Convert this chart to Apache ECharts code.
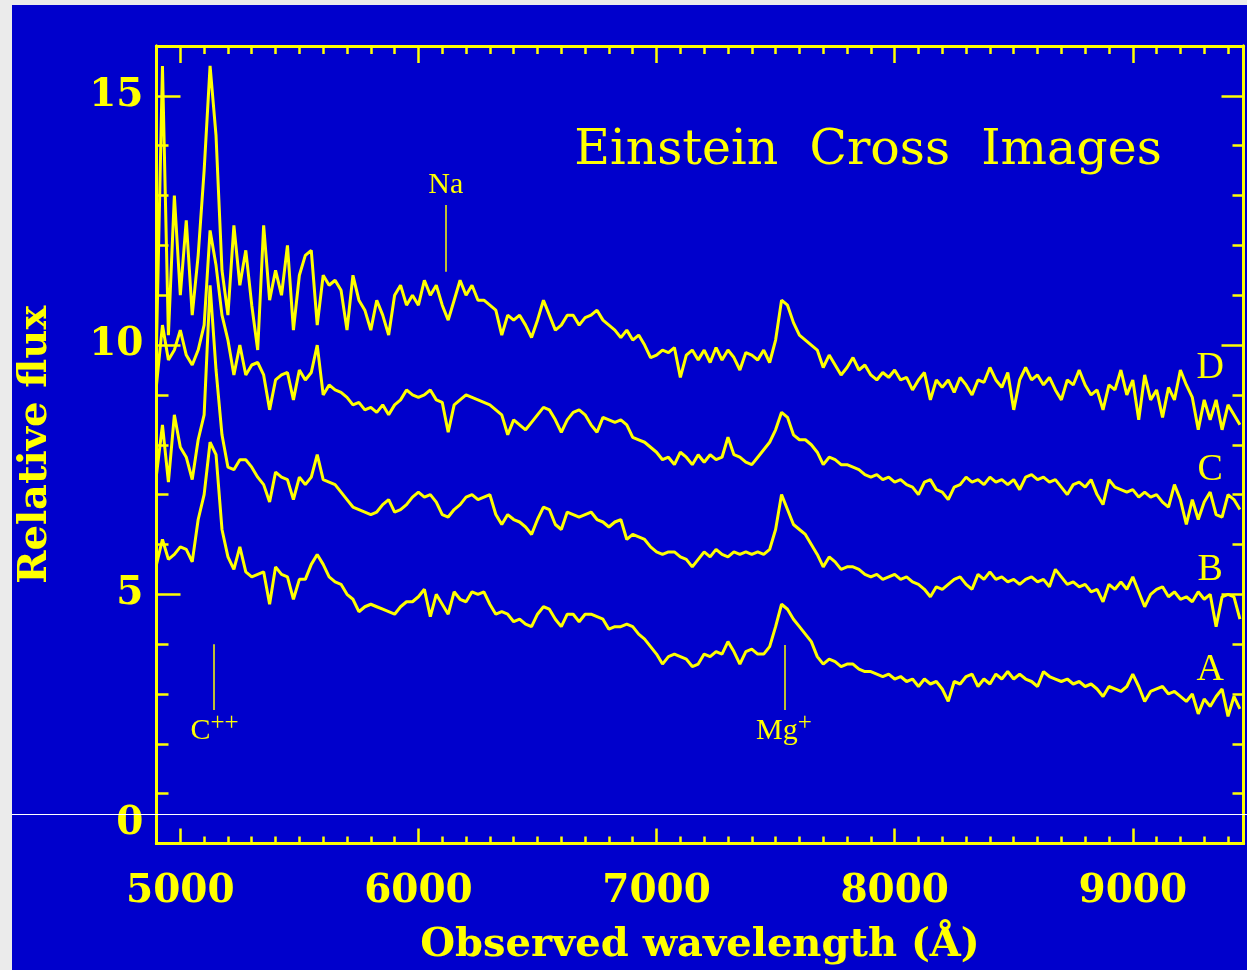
<!DOCTYPE html>
<html>
<head>
<meta charset="utf-8">
<title>Einstein Cross Images</title>
<script src="https://cdn.jsdelivr.net/npm/echarts@6/dist/echarts.min.js"></script>
<style>
  html, body { margin: 0; padding: 0; background: #ebebeb; }
  #app { position: absolute; left: 12px; top: 5px; width: 1235px; height: 965px; background: #0000cc; }
</style>
</head>
<body>
<div id="app"></div>
<script>
// 波长采样：从 4900 Å 开始，每 25 Å 一个点
const lambdaStart = 4900;
const lambdaStep = 25;

// 四个像的相对流量
const fluxA = [
  5.6, 6.1, 5.7, 5.8, 5.95, 5.9, 5.65, 6.5, 7.0, 8.05,
  7.8, 6.3, 5.75, 5.5, 5.95, 5.45, 5.35, 5.4, 5.45, 4.8,
  5.55, 5.4, 5.35, 4.9, 5.3, 5.3, 5.6, 5.8, 5.6, 5.35,
  5.25, 5.2, 5.0, 4.9, 4.65, 4.75, 4.8, 4.75, 4.7, 4.65,
  4.6, 4.75, 4.85, 4.85, 4.95, 5.1, 4.55, 5.0, 4.8, 4.6,
  5.05, 4.9, 4.85, 5.05, 5.0, 5.05, 4.8, 4.6, 4.65, 4.6,
  4.45, 4.5, 4.4, 4.35, 4.6, 4.75, 4.7, 4.5, 4.35, 4.6,
  4.6, 4.45, 4.6, 4.6, 4.55, 4.5, 4.3, 4.35, 4.35, 4.4,
  4.35, 4.2, 4.1, 3.95, 3.8, 3.6, 3.75, 3.8, 3.75, 3.7,
  3.55, 3.6, 3.8, 3.75, 3.85, 3.8, 4.05, 3.85, 3.6, 3.85,
  3.9, 3.8, 3.8, 3.95, 4.35, 4.8, 4.7, 4.5, 4.35, 4.2,
  4.05, 3.75, 3.6, 3.7, 3.65, 3.55, 3.6, 3.6, 3.5, 3.45,
  3.45, 3.4, 3.35, 3.4, 3.3, 3.35, 3.25, 3.3, 3.15, 3.3,
  3.2, 3.25, 3.1, 2.85, 3.25, 3.2, 3.35, 3.4, 3.15, 3.3,
  3.2, 3.4, 3.3, 3.45, 3.3, 3.4, 3.3, 3.25, 3.15, 3.45,
  3.35, 3.3, 3.25, 3.3, 3.2, 3.25, 3.15, 3.2, 3.1, 2.95,
  3.15, 3.1, 3.05, 3.15, 3.4, 3.15, 2.85, 3.05, 3.1, 3.15,
  3.0, 3.05, 2.95, 2.85, 3.0, 2.6, 2.9, 2.75, 2.95, 3.1,
  2.55, 2.95, 2.7
];
const fluxB = [
  7.4, 8.4, 7.25, 8.6, 7.95, 7.75, 7.3, 8.1, 8.6, 11.2,
  9.5, 8.2, 7.55, 7.5, 7.7, 7.7, 7.55, 7.35, 7.2, 6.85,
  7.45, 7.35, 7.3, 6.9, 7.35, 7.2, 7.35, 7.8, 7.3, 7.25,
  7.2, 7.05, 6.9, 6.75, 6.7, 6.65, 6.6, 6.65, 6.8, 6.9,
  6.65, 6.7, 6.8, 6.95, 7.05, 6.95, 7.0, 6.85, 6.6, 6.55,
  6.7, 6.8, 6.95, 7.0, 6.9, 6.95, 7.0, 6.6, 6.4, 6.6,
  6.5, 6.45, 6.35, 6.2, 6.5, 6.75, 6.7, 6.4, 6.3, 6.65,
  6.6, 6.55, 6.6, 6.65, 6.5, 6.45, 6.35, 6.45, 6.5, 6.1,
  6.2, 6.15, 6.1, 5.95, 5.85, 5.8, 5.85, 5.85, 5.75, 5.7,
  5.55, 5.7, 5.85, 5.75, 5.9, 5.8, 5.75, 5.85, 5.8, 5.85,
  5.8, 5.85, 5.8, 5.9, 6.3, 7.0, 6.7, 6.4, 6.3, 6.2,
  6.0, 5.8, 5.55, 5.75, 5.65, 5.5, 5.55, 5.55, 5.5, 5.4,
  5.35, 5.4, 5.3, 5.35, 5.4, 5.3, 5.35, 5.25, 5.2, 5.1,
  4.95, 5.15, 5.1, 5.2, 5.3, 5.35, 5.2, 5.1, 5.4, 5.3,
  5.45, 5.3, 5.35, 5.25, 5.3, 5.2, 5.3, 5.35, 5.25, 5.3,
  5.15, 5.5, 5.35, 5.2, 5.25, 5.15, 5.2, 5.05, 5.1, 4.85,
  5.2, 5.1, 5.25, 5.1, 5.35, 5.05, 4.75, 5.0, 5.1, 5.15,
  4.95, 5.05, 4.9, 4.95, 4.85, 5.05, 4.9, 5.0, 4.35, 4.95,
  5.0, 4.95, 4.5
];
const fluxC = [
  9.2, 10.4, 9.7, 9.9, 10.3, 9.8, 9.6, 9.9, 10.4, 12.3,
  11.6, 10.6, 10.1, 9.4, 10.0, 9.4, 9.6, 9.65, 9.4, 8.7,
  9.3, 9.4, 9.45, 8.9, 9.5, 9.3, 9.45, 10.0, 9.0, 9.2,
  9.1, 9.05, 8.95, 8.8, 8.85, 8.7, 8.75, 8.65, 8.8, 8.6,
  8.8, 8.9, 9.1, 9.0, 8.95, 9.0, 9.1, 8.9, 8.85, 8.25,
  8.8, 8.9, 9.0, 8.95, 8.9, 8.85, 8.8, 8.7, 8.6, 8.2,
  8.5, 8.4, 8.3, 8.45, 8.6, 8.75, 8.7, 8.5, 8.25, 8.5,
  8.65, 8.7, 8.6, 8.4, 8.25, 8.55, 8.5, 8.45, 8.5, 8.4,
  8.15, 8.1, 8.05, 7.95, 7.85, 7.7, 7.75, 7.6, 7.85, 7.75,
  7.6, 7.8, 7.65, 7.8, 7.7, 7.75, 8.15, 7.8, 7.75, 7.65,
  7.6, 7.75, 7.9, 8.05, 8.3, 8.65, 8.55, 8.2, 8.1, 8.1,
  8.0, 7.85, 7.6, 7.75, 7.7, 7.6, 7.6, 7.55, 7.5, 7.4,
  7.35, 7.4, 7.3, 7.35, 7.25, 7.3, 7.2, 7.15, 7.0, 7.25,
  7.3, 7.1, 7.05, 6.9, 7.15, 7.2, 7.35, 7.25, 7.3, 7.2,
  7.35, 7.25, 7.3, 7.2, 7.3, 7.1, 7.35, 7.4, 7.3, 7.35,
  7.25, 7.3, 7.15, 7.0, 7.2, 7.25, 7.15, 7.3, 7.0, 6.8,
  7.3, 7.15, 7.1, 7.05, 7.1, 6.95, 7.05, 6.95, 7.0, 6.85,
  6.75, 7.2, 6.9, 6.4, 6.9, 6.5, 6.85, 7.05, 6.6, 6.55,
  7.0, 6.9, 6.7
];
const fluxD = [
  10.0, 15.6, 10.2, 13.0, 11.0, 12.5, 10.6, 11.8, 13.5, 15.6,
  14.2, 11.5, 10.6, 12.4, 11.2, 11.9, 10.8, 9.9, 12.4, 10.9,
  11.5, 11.0, 12.0, 10.3, 11.4, 11.8, 11.9, 10.4, 11.4, 11.2,
  11.3, 11.1, 10.3, 11.4, 10.9, 10.7, 10.3, 10.9, 10.6, 10.2,
  11.0, 11.2, 10.8, 11.0, 10.8, 11.3, 11.0, 11.2, 10.8, 10.5,
  10.9, 11.3, 11.0, 11.2, 10.9, 10.9, 10.8, 10.7, 10.2, 10.6,
  10.5, 10.6, 10.4, 10.15, 10.5, 10.9, 10.6, 10.3, 10.4, 10.6,
  10.6, 10.4, 10.55, 10.6, 10.7, 10.5, 10.4, 10.3, 10.15, 10.3,
  10.1, 10.2, 10.0, 9.75, 9.8, 9.9, 9.85, 9.95, 9.35, 9.8,
  9.9, 9.7, 9.9, 9.65, 9.95, 9.7, 9.9, 9.75, 9.5, 9.85,
  9.8, 9.7, 9.9, 9.65, 10.1, 10.9, 10.8, 10.45, 10.2, 10.1,
  10.0, 9.9, 9.55, 9.8, 9.6, 9.4, 9.55, 9.75, 9.5, 9.6,
  9.4, 9.3, 9.45, 9.35, 9.5, 9.3, 9.35, 9.1, 9.3, 9.45,
  8.9, 9.3, 9.15, 9.3, 9.05, 9.35, 9.2, 9.0, 9.3, 9.25,
  9.55, 9.3, 9.15, 9.45, 8.7, 9.3, 9.55, 9.3, 9.4, 9.2,
  9.35, 9.1, 8.9, 9.3, 9.2, 9.5, 9.2, 9.0, 9.1, 8.7,
  9.2, 9.1, 9.5, 9.0, 9.3, 8.5, 9.4, 8.9, 9.1, 8.55,
  9.15, 8.9, 9.5, 9.2, 8.95, 8.3, 8.9, 8.5, 8.9, 8.3,
  8.8, 8.6, 8.4
];

// 刻度
const xMajorTicks = [5000, 6000, 7000, 8000, 9000];
const yMajorTicks = [0, 5, 10, 15];

// 曲线名称及其标注位置
const curveNames = ['A', 'B', 'C', 'D'];
const curveNameY = [3.48, 5.49, 7.49, 9.54];
const curveNameX = 9325;

// 谱线标注：名称、波长、竖线上下端、文字位置
const lineNames = ['C{sup|++}', 'Na', 'Mg{sup|+}'];
const lineWave = [5140, 6115, 7539];
const lineTop = [4.0, 12.81, 3.98];
const lineBottom = [2.68, 11.47, 2.68];
const lineLabelX = [5144, 6115, 7535];
const lineLabelY = [2.26, 13.21, 2.26];

const yellow = '#ffff00';
const serif = 'DejaVu Serif';

// 把流量数组转成 [波长, 流量]
function toPairs(flux) {
    return flux.map(function(v, i) {
        return [lambdaStart + lambdaStep * i, v];
    });
}

// 生成一条坐标轴（主刻度 / 次刻度，底/顶/左/右）
function makeAxis(position, min, max, tickLen, opts) {
    return Object.assign({
        type: 'value',
        position: position,
        min: min,
        max: max,
        axisLine: { show: true, onZero: false, lineStyle: { color: yellow, width: 3 } },
        axisTick: { show: true, inside: true, length: tickLen, lineStyle: { color: yellow, width: 2.5 } },
        axisLabel: { show: false },
        splitLine: { show: false }
    }, opts || {});
}

// 刻度值不加千分位
function plainNumber(v) {
    return String(v);
}

const labelFont = { color: yellow, fontFamily: serif, fontWeight: 'bold', fontSize: 39, formatter: plainNumber };
const nameFont = { color: yellow, fontFamily: serif, fontWeight: 'bold', fontSize: 40 };

const xMin = 4900, xMax = 9465;
const yMin = 0, yMax = 16;

const xAxes = [
    makeAxis('bottom', xMin, xMax, 15, {
        axisTick: { show: true, inside: true, length: 15, customValues: xMajorTicks, lineStyle: { color: yellow, width: 2.5 } },
        axisLabel: Object.assign({ show: true, margin: 29, customValues: xMajorTicks }, labelFont),
        name: 'Observed wavelength (Å)',
        nameLocation: 'middle',
        nameGap: 82,
        nameTextStyle: nameFont
    }),
    makeAxis('bottom', xMin, xMax, 7, { interval: 100 }),
    makeAxis('top', xMin, xMax, 17, {
        axisTick: { show: true, inside: true, length: 17, customValues: xMajorTicks, lineStyle: { color: yellow, width: 2.5 } }
    }),
    makeAxis('top', xMin, xMax, 8, { interval: 100 })
];

const yAxes = [
    makeAxis('left', yMin, yMax, 24, {
        axisTick: { show: true, inside: true, length: 24, customValues: yMajorTicks, lineStyle: { color: yellow, width: 2.5 } },
        axisLabel: Object.assign({ show: true, margin: 13, customValues: yMajorTicks, verticalAlignMinLabel: 'bottom' }, labelFont),
        name: 'Relative flux',
        nameLocation: 'middle',
        nameGap: 101,
        nameTextStyle: nameFont
    }),
    makeAxis('left', yMin, yMax, 12, { interval: 1 }),
    makeAxis('right', yMin, yMax, 22, {
        axisTick: { show: true, inside: true, length: 22, customValues: yMajorTicks, lineStyle: { color: yellow, width: 2.5 } }
    }),
    makeAxis('right', yMin, yMax, 11, { interval: 1 })
];

// 一条光谱曲线
function spectrum(name, flux) {
    return {
        name: name,
        type: 'line',
        xAxisIndex: 0,
        yAxisIndex: 0,
        data: toPairs(flux),
        showSymbol: false,
        symbol: 'none',
        lineStyle: { color: yellow, width: 3 },
        silent: true
    };
}

const seriesA = spectrum('A', fluxA);

// 谱线竖线
seriesA.markLine = {
    silent: true,
    symbol: 'none',
    animation: false,
    label: { show: false },
    lineStyle: { color: yellow, width: 1.5, type: 'solid' },
    data: lineWave.map(function(w, i) {
        return [{ coord: [w, lineTop[i]] }, { coord: [w, lineBottom[i]] }];
    })
};

// 文字标注：谱线名 + 曲线名（上标靠行顶抬高）
const markTexts = lineNames.map(function(t, i) {
    return {
        coord: [lineLabelX[i], lineLabelY[i]],
        label: {
            formatter: t,
            fontFamily: 'Liberation Serif',
            fontSize: 30,
            lineHeight: 40,
            color: yellow,
            rich: {
                sup: { fontFamily: 'Liberation Serif', fontSize: 25, lineHeight: 24, color: yellow, verticalAlign: 'top' }
            }
        }
    };
}).concat(curveNames.map(function(n, i) {
    return {
        coord: [curveNameX, curveNameY[i]],
        label: { formatter: n, fontFamily: 'Liberation Serif', fontSize: 38, color: yellow }
    };
}));

seriesA.markPoint = {
    silent: true,
    symbol: 'rect',
    symbolSize: 1,
    itemStyle: { color: 'rgba(0,0,0,0)' },
    label: { show: true, position: 'inside' },
    data: markTexts
};

const chart = echarts.init(document.getElementById('app'));
chart.setOption({
    animation: false,
    backgroundColor: '#0000cc',
    grid: { left: 144.5, right: 3.5, top: 41, bottom: 126.5, containLabel: false, outerBoundsMode: 'none' },
    xAxis: xAxes,
    yAxis: yAxes,
    graphic: [
        {
            type: 'text',
            x: 856,
            y: 146,
            style: {
                text: 'Einstein  Cross  Images',
                fill: yellow,
                font: '49px "DejaVu Serif"',
                textAlign: 'center',
                textVerticalAlign: 'middle'
            }
        },
        {
            type: 'rect',
            z: 100,
            shape: { x: 0, y: 809, width: 1235, height: 1 },
            style: { fill: '#ffffff' }
        }
    ],
    series: [
        seriesA,
        spectrum('B', fluxB),
        spectrum('C', fluxC),
        spectrum('D', fluxD)
    ]
});
</script>
</body>
</html>
